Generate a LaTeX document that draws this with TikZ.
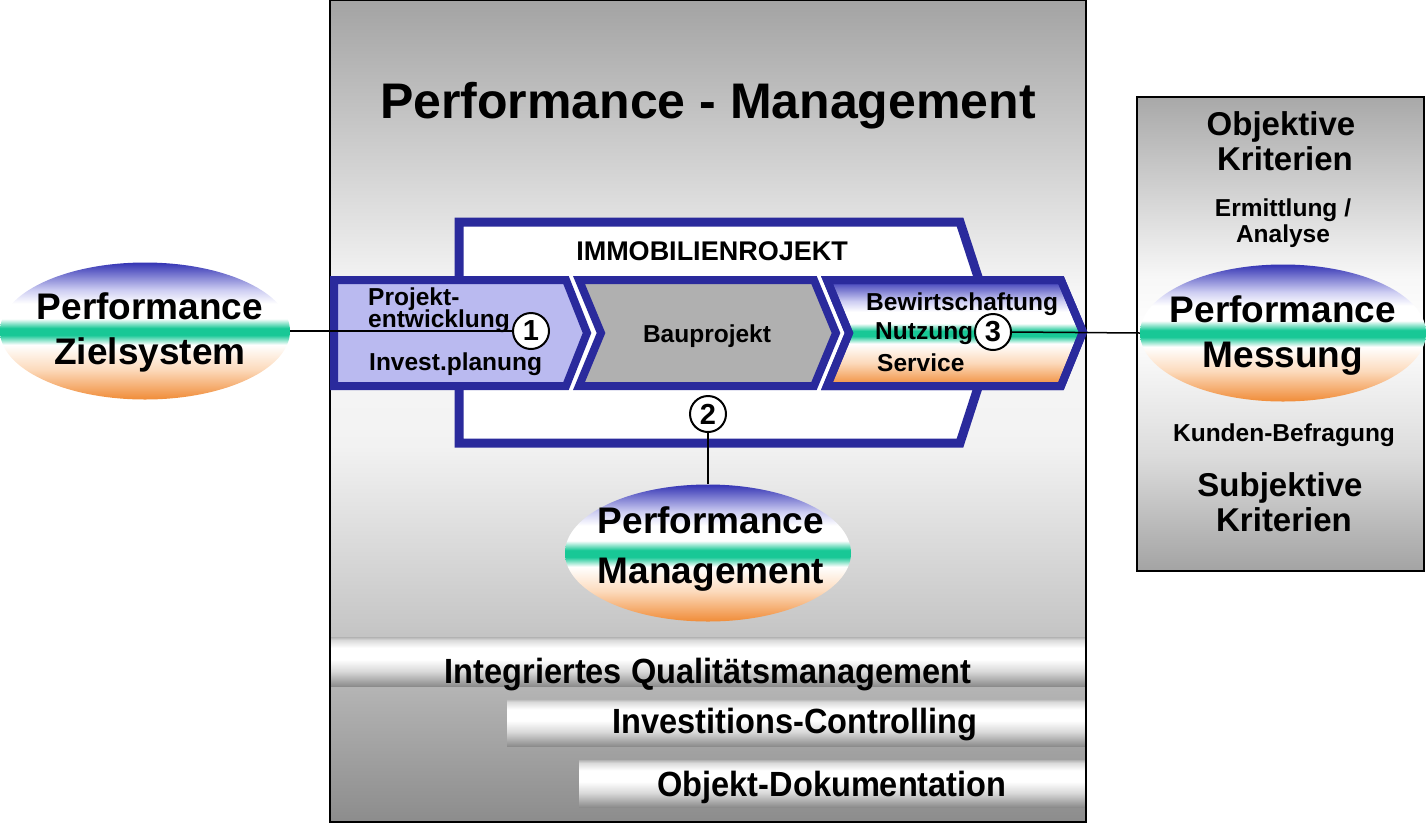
\documentclass[tikz,border=0pt]{standalone}
\usepackage{fontspec}
\setmainfont{Liberation Sans}
\newfontfamily\narrowfont[FakeStretch=0.93]{Liberation Sans}
\usetikzlibrary{shapes.geometric}

\definecolor{chevblue}{RGB}{42,42,156}
\definecolor{lav}{RGB}{186,186,240}
\definecolor{baugray}{RGB}{176,176,176}
\definecolor{eblue}{RGB}{52,52,180}
\definecolor{eblueL}{RGB}{205,205,242}
\definecolor{egreen}{RGB}{24,200,150}
\definecolor{eorange}{RGB}{240,140,56}
\definecolor{eorangeL}{RGB}{252,218,188}
\definecolor{gA}{gray}{0.55}
\definecolor{gB}{gray}{0.78}
\definecolor{gC}{gray}{0.95}
\definecolor{gD}{gray}{0.97}
\definecolor{gE}{gray}{0.64}
\definecolor{gF}{gray}{0.85}
\definecolor{gG}{gray}{0.70}
\definecolor{gH}{gray}{0.64}
\definecolor{gI}{gray}{0.66}
\definecolor{gJ}{gray}{0.86}

\pgfdeclareverticalshading{ellshade}{100bp}{color(0bp)=(eorange); color(25bp)=(eorange); color(36bp)=(eorangeL); color(45bp)=(white); color(48.5bp)=(egreen); color(51bp)=(egreen); color(54.5bp)=(white); color(60bp)=(white); color(65bp)=(eblueL); color(75bp)=(eblue); color(100bp)=(eblue)}
\pgfdeclareverticalshading{mainshade}{100bp}{color(0bp)=(gA); color(25bp)=(gA); color(37bp)=(gB); color(48bp)=(gC); color(57bp)=(gD); color(75bp)=(gE); color(100bp)=(gE)}
\pgfdeclareverticalshading{barshade}{100bp}{color(0bp)=(gA); color(25bp)=(gA); color(40bp)=(gF); color(52bp)=(white); color(64bp)=(white); color(72bp)=(gF); color(75bp)=(gG); color(100bp)=(gG)}
\pgfdeclareverticalshading{rshade}{100bp}{color(0bp)=(gH); color(25bp)=(gH); color(37bp)=(gJ); color(50bp)=(white); color(56bp)=(gD); color(75bp)=(gI); color(100bp)=(gI)}

\tikzset{
  perfell/.style={ellipse, inner sep=0pt, minimum width=290pt, minimum height=137pt, shading=ellshade},
  elltxt/.style={align=center, inner sep=0pt, font=\bfseries\fontsize{37}{45}\selectfont},
  chev/.style={draw=chevblue, line width=8pt, line join=miter},
  numc/.style={circle, draw=black, line width=2pt, fill=white, minimum size=36pt, inner sep=0pt, font=\bfseries\fontsize{29}{29}\selectfont},
  bartxt/.style={anchor=base, font=\narrowfont\bfseries\fontsize{35}{35}\selectfont},
  chevtxt/.style={anchor=base west, inner sep=0pt, font=\bfseries\fontsize{24.5}{24.5}\selectfont},
  boxtxt/.style={anchor=base, inner sep=0pt, font=\bfseries\fontsize{33}{33}\selectfont},
  smalltxt/.style={anchor=base, inner sep=0pt, font=\bfseries\fontsize{24.5}{24.5}\selectfont},
  conn/.style={draw=black, line width=1.5pt}
}

\begin{document}
\begin{tikzpicture}[x=1pt,y=-1pt]
\useasboundingbox (0,0) rectangle (1426,825);

% main box
\path[shading=mainshade] (330,0) rectangle (1086,822);

% bottom bars
\path[shading=barshade] (331,637) rectangle (1085,686);
\path[shading=barshade] (507,699) rectangle (1085,746);
\path[shading=barshade] (579,760) rectangle (1085,807);
\node[bartxt] (bar1) at (708,683) {Integriertes Qualitätsmanagement};
\node[bartxt] (bar2) at (795,733) {Investitions-Controlling};
\node[bartxt] (bar3) at (832,796) {Objekt-Dokumentation};

\draw[line width=1.5pt] (330,0) rectangle (1086,822);

% title
\node[anchor=base, font=\bfseries\fontsize{50}{50}\selectfont] (title) at (708,118) {Performance - Management};

% big arrow
\draw[chev, line width=9pt, fill=white] (459,222) -- (960,222) -- (996,332) -- (960,443) -- (459,443) -- cycle;
\node[anchor=base, inner sep=0pt, font=\bfseries\fontsize{27}{27}\selectfont] (immo) at (712,260) {IMMOBILIENROJEKT};

% chevrons
\draw[chev, fill=lav] (334,280) -- (566,280) -- (587,333) -- (566,386) -- (334,386) -- cycle;
\draw[chev, fill=baugray] (579,280) -- (814,280) -- (836,333) -- (814,386) -- (579,386) -- (601,333) -- cycle;
\draw[chev, shading=ellshade] (827,280) -- (1061,280) -- (1083,332) -- (1061,386) -- (827,386) -- (849,333) -- cycle;
\draw[chev] (827,280) -- (1061,280) -- (1083,332) -- (1061,386) -- (827,386) -- (849,333) -- cycle;

\node[chevtxt] (pj1) at (368,305) {Projekt-};
\node[chevtxt] (pj2) at (368,327) {entwicklung};
\node[chevtxt] (inv) at (369,370) {Invest.planung};
\node[anchor=base, inner sep=0pt, font=\bfseries\fontsize{24.5}{24.5}\selectfont] (bau) at (707,342) {Bauprojekt};
\node[chevtxt] (bew) at (866,310) {Bewirtschaftung};
\node[chevtxt] (nutz) at (875,339) {Nutzung};
\node[chevtxt] (serv) at (877,371) {Service};

% right box
\path[shading=rshade] (1137,97) rectangle (1424,571);
\draw[line width=1.5pt] (1137,97) rectangle (1424,571);
\node[boxtxt] (obj1) at (1281,135) {Objektive};
\node[boxtxt] (obj2) at (1285,170) {Kriterien};
\node[smalltxt] (erm1) at (1283,216) {Ermittlung /};
\node[smalltxt] (erm2) at (1283,242) {Analyse};
\node[smalltxt] (kund) at (1284,441) {Kunden-Befragung};
\node[boxtxt] (sub1) at (1280,496) {Subjektive};
\node[boxtxt] (sub2) at (1284,531) {Kriterien};

% ellipses
\node[perfell] (ziel) at (145,331) {};
\node[elltxt] (zieltxt) at (150,332) {Performance\\Zielsystem};
\node[perfell, minimum width=286pt] (mgmt) at (708,553) {};
\node[elltxt, font=\bfseries\fontsize{37}{50}\selectfont] (mgmttxt) at (711,549) {Performance\\Management};
\node[perfell, minimum width=286pt] (mess) at (1283,333) {};
\node[elltxt] (messtxt) at (1283,336) {Performance\\Messung};

% number circles
\node[numc] (c1) at (531,331) {1};
\node[numc] (c2) at (708,414) {2};
\node[numc] (c3) at (993,332) {3};

% connectors
\draw[conn] (ziel.east) -- (c1.west);
\draw[conn] (c2.south) -- (mgmt.north);
\draw[conn] (c3.east) -- (mess.west);
\end{tikzpicture}
\end{document}
